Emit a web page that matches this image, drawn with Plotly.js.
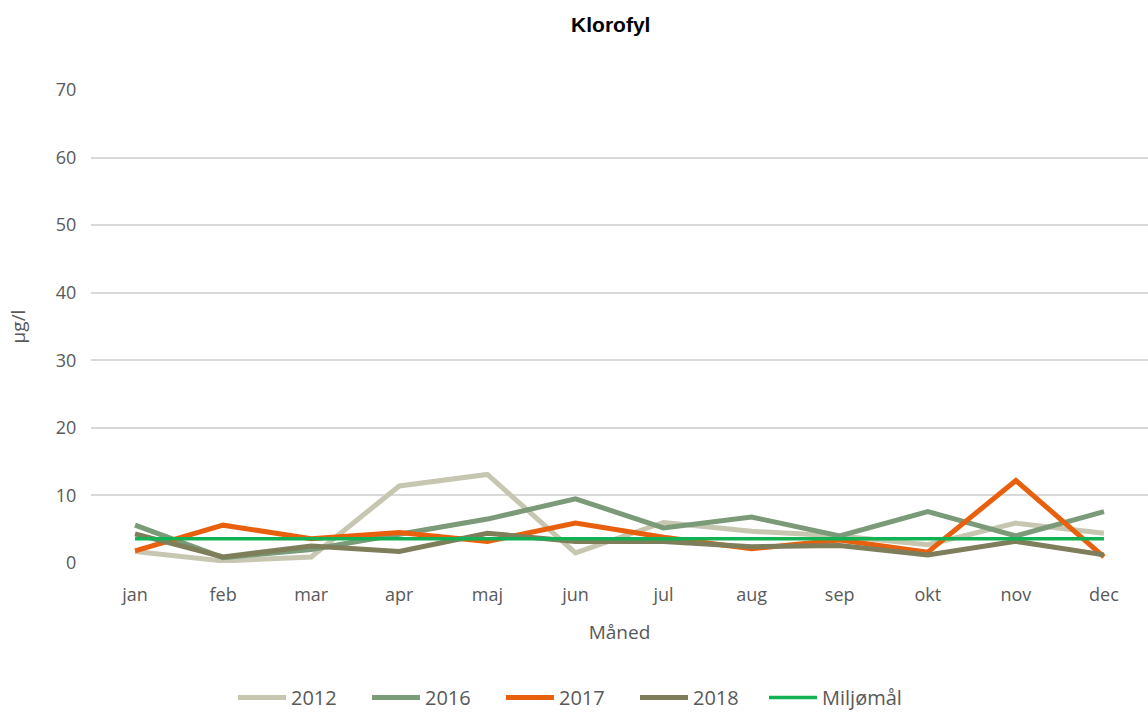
<!DOCTYPE html>
<html><head><meta charset="utf-8">
<script src="https://cdn.plot.ly/plotly-3.0.1.min.js"></script>
<style>body{margin:0;background:#fff}#c{width:1148px;height:717px}</style>
</head><body><div id="c"></div>
<script>
const months = ["jan","feb","mar","apr","maj","jun","jul","aug","sep","okt","nov","dec"];
const v2012 = [1.7, 0.3, 0.9, 11.4, 13.1, 1.5, 6.0, 4.7, 4.0, 2.7, 5.9, 4.4];
const v2016 = [5.6, 0.8, 2.0, 4.2, 6.5, 9.5, 5.2, 6.8, 4.0, 7.6, 4.0, 7.6];
const v2017 = [1.8, 5.6, 3.6, 4.5, 3.2, 5.9, 3.8, 2.1, 3.4, 1.6, 12.2, 0.9];
const v2018 = [4.3, 0.9, 2.5, 1.7, 4.4, 3.2, 3.2, 2.4, 2.6, 1.2, 3.2, 1.2];
const miljo = [3.6, 3.6, 3.6, 3.6, 3.6, 3.6, 3.6, 3.6, 3.6, 3.6, 3.6, 3.6];
const names = ["2012","2016","2017","2018","Miljømål"];
const colors = ["#C6C6B1","#7A9A78","#E8600E","#7E7E5B","#12B254"];
const widths = [5,5,5,5,3.5];
const series = [v2012,v2016,v2017,v2018,miljo];
const data = series.map((y,i)=>({
  x: months, y: y, type:"scatter", mode:"lines", name: names[i],
  legend: i < 4 ? "legend" : "legend2",
  line:{color:colors[i], width:widths[i]}
}));
const legendFont = {size:20, color:"#595959"};
const layout = {
  width:1148, height:717,
  margin:{l:91, r:0, t:90, b:154},
  paper_bgcolor:"#fff", plot_bgcolor:"#fff",
  font:{family:"'Open Sans', sans-serif", color:"#595959", size:17},
  title:{text:"<b>Klorofyl</b>", font:{family:"Liberation Sans, Arial", size:21, color:"#000"}, x:0.532, xanchor:"center", y:0.966, yanchor:"middle"},
  xaxis:{type:"category", range:[-0.5,11.5], showgrid:false, zeroline:false, showline:false, automargin:false,
    ticks:"outside", ticklen:15, tickcolor:"rgba(0,0,0,0)",
    tickfont:{size:18, color:"#595959"},
    title:{text:"Måned", font:{size:19, color:"#595959"}, standoff:21}},
  yaxis:{range:[0,70], dtick:10, showgrid:true, gridcolor:"#D9D9D9", gridwidth:1.5, zeroline:false, showline:false, automargin:false,
    ticks:"outside", ticklen:10, tickcolor:"rgba(0,0,0,0)",
    tickfont:{size:18, color:"#595959"},
    title:{text:"µg/l", font:{size:19, color:"#595959"}, standoff:25}},
  showlegend:true,
  legend:{orientation:"h", x:233/1148, xanchor:"left", xref:"container", yref:"container", y:0, yanchor:"bottom",
    font:legendFont, itemwidth:48, entrywidth:71, entrywidthmode:"pixels", tracegroupgap:0},
  legend2:{orientation:"h", x:764/1148, xanchor:"left", xref:"container", yref:"container", y:0, yanchor:"bottom",
    font:legendFont, itemwidth:48, tracegroupgap:0}
};
Plotly.newPlot("c", data, layout, {displayModeBar:false});
</script></body></html>
